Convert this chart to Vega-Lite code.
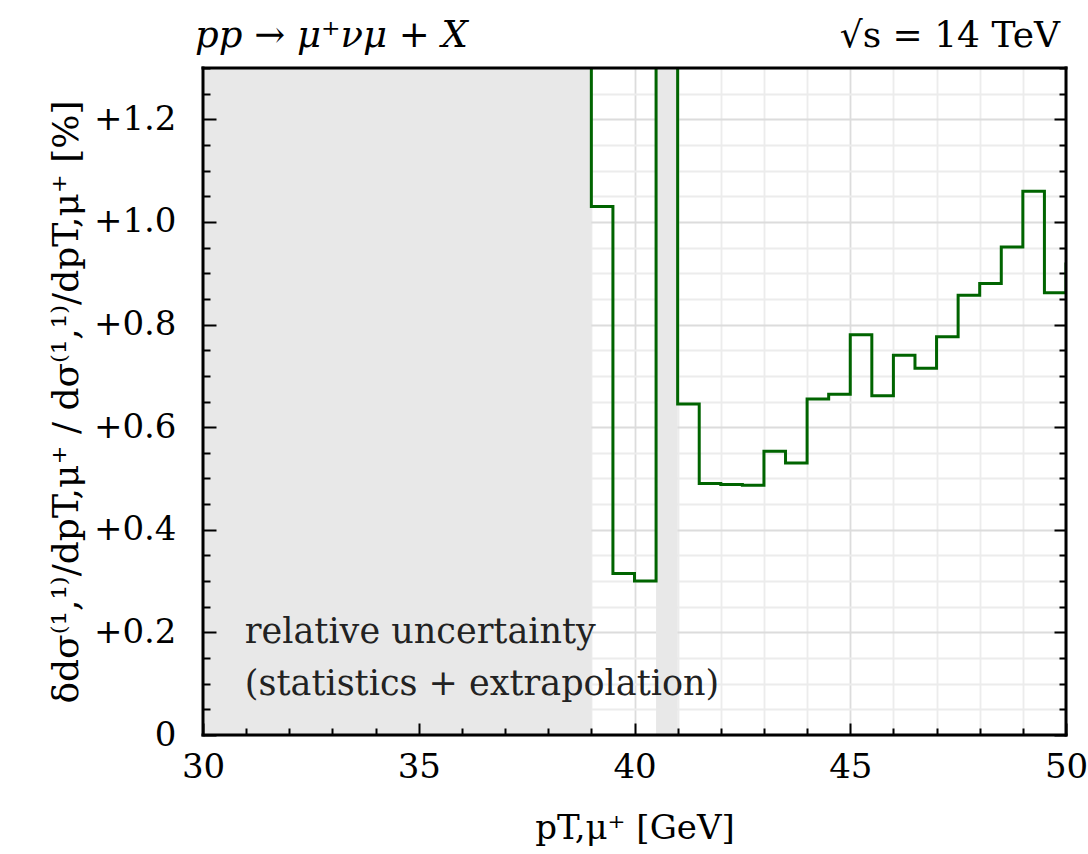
{
  "$schema": "https://vega.github.io/schema/vega-lite/v6.json",
  "width": 863,
  "height": 667,
  "autosize": {"type": "none"},
  "padding": {"left": 203, "top": 68, "right": 22, "bottom": 119},
  "background": "white",
  "config": {
    "font": "DejaVu Serif",
    "view": {"stroke": null},
    "axis": {"titleFontWeight": "normal", "labelColor": "black", "titleColor": "black"}
  },
  "datasets": {
    "bands": [
      {"start": 30, "end": 39},
      {"start": 40.5, "end": 41}
    ],
    "hist": [
      {"pt": 38.5, "rel": 2.0},
      {"pt": 39.0, "rel": 1.03},
      {"pt": 39.5, "rel": 0.315},
      {"pt": 40.0, "rel": 0.30},
      {"pt": 40.5, "rel": 2.0},
      {"pt": 41.0, "rel": 0.645},
      {"pt": 41.5, "rel": 0.490},
      {"pt": 42.0, "rel": 0.488},
      {"pt": 42.5, "rel": 0.487},
      {"pt": 43.0, "rel": 0.553},
      {"pt": 43.5, "rel": 0.530},
      {"pt": 44.0, "rel": 0.655},
      {"pt": 44.5, "rel": 0.664},
      {"pt": 45.0, "rel": 0.780},
      {"pt": 45.5, "rel": 0.661},
      {"pt": 46.0, "rel": 0.740},
      {"pt": 46.5, "rel": 0.715},
      {"pt": 47.0, "rel": 0.776},
      {"pt": 47.5, "rel": 0.857},
      {"pt": 48.0, "rel": 0.880},
      {"pt": 48.5, "rel": 0.951},
      {"pt": 49.0, "rel": 1.060},
      {"pt": 49.5, "rel": 0.862},
      {"pt": 50.0, "rel": 0.921}
    ]
  },
  "resolve": {"axis": {"x": "independent", "y": "independent"}},
  "layer": [
    {
      "data": {"name": "bands"},
      "mark": {"type": "rect", "color": "#e8e8e8"},
      "encoding": {
        "x": {
          "field": "start",
          "type": "quantitative",
          "scale": {"domain": [30, 50], "nice": false, "zero": false},
          "axis": {
            "orient": "bottom",
            "values": [30,31,32,33,34,35,36,37,38,39,40,41,42,43,44,45,46,47,48,49,50],
            "domain": false,
            "grid": false,
            "zindex": 1,
            "tickColor": "black",
            "tickWidth": 2,
            "tickSize": {"condition": {"test": "datum.value % 5 === 0", "value": -12}, "value": -7},
            "labelPadding": 27,
            "labelFlush": false,
            "labelOverlap": false,
            "labelExpr": "datum.value % 5 === 0 ? datum.label : ''",
            "labelFontSize": 34,
            "title": "pT,μ⁺ [GeV]",
            "titleFontSize": 34,
            "titlePadding": 22
          }
        },
        "x2": {"field": "end"}
      }
    },
    {
      "data": {"name": "hist"},
      "mark": {"type": "line", "interpolate": "step-after", "color": "#006400", "strokeWidth": 3, "clip": true},
      "encoding": {
        "x": {
          "field": "pt",
          "type": "quantitative",
          "scale": {"domain": [30, 50], "nice": false, "zero": false},
          "axis": {
            "orient": "top",
            "values": [30,31,32,33,34,35,36,37,38,39,40,41,42,43,44,45,46,47,48,49,50],
            "labels": false,
            "ticks": false,
            "domain": false,
            "grid": true,
            "gridColor": {"condition": {"test": "datum.value % 5 === 0", "value": "#dcdcdc"}, "value": "#ececec"},
            "gridWidth": 1.8,
            "title": null,
            "zindex": 0
          }
        },
        "y": {
          "field": "rel",
          "type": "quantitative",
          "scale": {"domain": [0, 1.3], "nice": false, "zero": false},
          "axis": {
            "orient": "left",
            "values": [0,0.05,0.1,0.15,0.2,0.25,0.3,0.35,0.4,0.45,0.5,0.55,0.6,0.65,0.7,0.75,0.8,0.85,0.9,0.95,1.0,1.05,1.1,1.15,1.2,1.25,1.3],
            "domain": false,
            "grid": false,
            "zindex": 1,
            "tickColor": "black",
            "tickWidth": 2,
            "tickSize": {"condition": {"test": "abs(datum.value*5 - round(datum.value*5)) < 0.000001", "value": -13}, "value": -7},
            "labelPadding": 40,
            "labelOverlap": false,
            "labelFlush": false,
            "labelExpr": "abs(datum.value*5 - round(datum.value*5)) < 0.000001 ? (datum.value == 0 ? '0' : '+' + format(datum.value, '.1f')) : ''",
            "labelFontSize": 34,
            "title": "δdσ⁽¹,¹⁾/dpT,μ⁺ / dσ⁽¹,¹⁾/dpT,μ⁺ [%]",
            "titleFontSize": 36,
            "titlePadding": 8
          }
        }
      }
    },
    {
      "data": {"values": [{"label": "relative uncertainty\n(statistics + extrapolation)"}]},
      "mark": {"type": "text", "align": "left", "baseline": "alphabetic", "fontSize": 35, "lineBreak": "\n", "lineHeight": 52, "color": "#222222"},
      "encoding": {
        "x": {"datum": 30.97, "type": "quantitative", "axis": null},
        "y": {
          "datum": 0.179,
          "type": "quantitative",
          "axis": {
            "orient": "right",
            "values": [0,0.05,0.1,0.15,0.2,0.25,0.3,0.35,0.4,0.45,0.5,0.55,0.6,0.65,0.7,0.75,0.8,0.85,0.9,0.95,1.0,1.05,1.1,1.15,1.2,1.25,1.3],
            "labels": false,
            "domain": false,
            "grid": true,
            "gridColor": {"condition": {"test": "abs(datum.value*5 - round(datum.value*5)) < 0.000001", "value": "#dcdcdc"}, "value": "#ececec"},
            "gridWidth": 1.8,
            "tickColor": "black",
            "tickWidth": 2,
            "tickSize": {"condition": {"test": "abs(datum.value*5 - round(datum.value*5)) < 0.000001", "value": -12}, "value": -7},
            "title": null,
            "zindex": 0
          }
        },
        "text": {"field": "label", "type": "nominal"}
      }
    },
    {
      "data": {"values": [{"side": "top"}]},
      "mark": {"type": "rule", "color": "black", "strokeWidth": 3, "strokeCap": "square"},
      "encoding": {"y": {"datum": 1.3, "type": "quantitative", "axis": null}}
    },
    {
      "data": {"values": [{"side": "bottom"}]},
      "mark": {"type": "rule", "color": "black", "strokeWidth": 3, "strokeCap": "square"},
      "encoding": {"y": {"datum": 0, "type": "quantitative", "axis": null}}
    },
    {
      "data": {"values": [{"side": "left"}]},
      "mark": {"type": "rule", "color": "black", "strokeWidth": 3, "strokeCap": "square"},
      "encoding": {"x": {"datum": 30, "type": "quantitative", "axis": null}}
    },
    {
      "data": {"values": [{"side": "right"}]},
      "mark": {"type": "rule", "color": "black", "strokeWidth": 3, "strokeCap": "square"},
      "encoding": {"x": {"datum": 50, "type": "quantitative", "axis": null}}
    },
    {
      "data": {"values": [{"label": "pp → μ⁺νμ + X"}]},
      "mark": {"type": "text", "align": "left", "baseline": "alphabetic", "fontSize": 37, "fontStyle": "italic", "dx": -8, "dy": -21, "color": "black"},
      "encoding": {
        "x": {"datum": 30, "type": "quantitative", "axis": null},
        "y": {"datum": 1.3, "type": "quantitative", "axis": null},
        "text": {"field": "label", "type": "nominal"}
      }
    },
    {
      "data": {"values": [{"label": "√s = 14 TeV"}]},
      "mark": {"type": "text", "align": "right", "baseline": "alphabetic", "fontSize": 36, "dx": -6, "dy": -21, "color": "black"},
      "encoding": {
        "x": {"datum": 50, "type": "quantitative", "axis": null},
        "y": {"datum": 1.3, "type": "quantitative", "axis": null},
        "text": {"field": "label", "type": "nominal"}
      }
    }
  ]
}
